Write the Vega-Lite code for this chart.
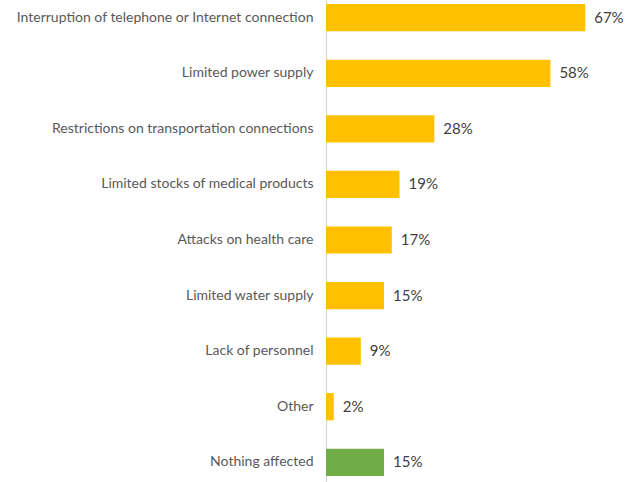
{
  "$schema": "https://vega.github.io/schema/vega-lite/v6.json",
  "width": 301,
  "height": 484,
  "autosize": {"type": "none"},
  "padding": {"left": 326, "top": -2, "right": 0, "bottom": 0},
  "background": "white",
  "config": {"view": {"stroke": null}, "font": "Lato"},
  "data": {"values": [
    {"label": "Interruption of telephone or Internet connection", "value": 0.67, "type": "impact"},
    {"label": "Limited power supply", "value": 0.58, "type": "impact"},
    {"label": "Restrictions on transportation connections", "value": 0.28, "type": "impact"},
    {"label": "Limited stocks of medical products", "value": 0.19, "type": "impact"},
    {"label": "Attacks on health care", "value": 0.17, "type": "impact"},
    {"label": "Limited water supply", "value": 0.15, "type": "impact"},
    {"label": "Lack of personnel", "value": 0.09, "type": "impact"},
    {"label": "Other", "value": 0.02, "type": "impact"},
    {"label": "Nothing affected", "value": 0.15, "type": "none"}
  ]},
  "encoding": {
    "y": {"field": "label", "type": "nominal", "sort": null,
      "scale": {"paddingInner": 0.51, "paddingOuter": 0.11},
      "axis": {"title": null, "ticks": false, "domainColor": "#d9d9d9", "domainWidth": 1.2,
        "labelColor": "#595959", "labelFontSize": 14, "labelPadding": 13, "labelLimit": 400, "labelFont": "Lato"}},
    "x": {"field": "value", "type": "quantitative", "scale": {"domain": [0, 0.778], "nice": false}, "axis": null}
  },
  "layer": [
    {"mark": {"type": "bar"},
     "encoding": {"color": {"field": "type", "type": "nominal", "scale": {"domain": ["impact", "none"], "range": ["#FFC000", "#70AD47"]}, "legend": null}}},
    {"mark": {"type": "text", "align": "left", "dx": 9, "fontSize": 15, "color": "#404040", "font": "Lato"},
     "encoding": {"text": {"field": "value", "type": "quantitative", "format": ".0%"}}}
  ]
}
